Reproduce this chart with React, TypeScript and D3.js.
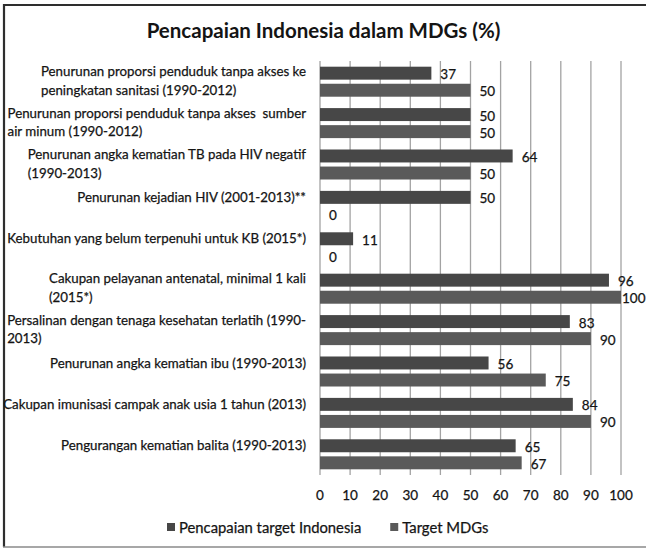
import React, { useEffect, useRef } from "react";
import * as d3 from "d3";

// category labels (line breaks as in the original)
const categories: string[] = [
  "Penurunan proporsi penduduk tanpa akses ke\npeningkatan sanitasi (1990-2012)",
  "Penurunan proporsi penduduk tanpa akses  sumber\nair minum (1990-2012)",
  "Penurunan angka kematian TB pada HIV negatif\n(1990-2013)",
  "Penurunan kejadian HIV (2001-2013)**",
  "Kebutuhan yang belum terpenuhi untuk KB (2015*)",
  "Cakupan pelayanan antenatal, minimal 1 kali\n(2015*)",
  "Persalinan dengan tenaga kesehatan terlatih (1990-\n2013)",
  "Penurunan angka kematian ibu (1990-2013)",
  "Cakupan imunisasi campak anak usia 1 tahun (2013)",
  "Pengurangan kematian balita (1990-2013)",
];
const pencapaian: number[] = [37, 50, 64, 50, 11, 96, 83, 56, 84, 65];
const targetMDGs: number[] = [50, 50, 50, 0, 0, 100, 90, 75, 90, 67];
const seriesNames: string[] = ["Pencapaian target Indonesia", "Target MDGs"];
const xTicks: number[] = [0, 10, 20, 30, 40, 50, 60, 70, 80, 90, 100];
const title = "Pencapaian Indonesia dalam MDGs (%)";

const FONT = "Lato, 'Open Sans', sans-serif";
const TEXT = "#141414";
const colors = ["#474747", "#5a5a5a"];

const App: React.FC = () => {
  const svgRef = useRef<SVGSVGElement | null>(null);

  useEffect(() => {
    if (!svgRef.current) return;
    const svg = d3.select(svgRef.current);
    svg.selectAll("*").remove();

    const W = 646;
    const H = 549;
    const plot = { top: 61, bottom: 475, left: 320, right: 621 };

    const x = d3.scaleLinear().domain([0, 100]).range([plot.left, plot.right]);
    const y = d3
      .scaleBand<number>()
      .domain(d3.range(categories.length))
      .range([plot.top, plot.bottom])
      .paddingInner(0.275)
      .paddingOuter(0.1375);
    const ySub = d3
      .scaleBand<number>()
      .domain([0, 1])
      .range([0, y.bandwidth()])
      .paddingInner(0.24);

    // small helper so all text gets the same look
    const styleText = (sel: any, size: number) =>
      sel
        .style("font-family", FONT)
        .style("font-size", `${size}px`)
        .attr("fill", TEXT)
        .attr("stroke", TEXT)
        .attr("stroke-width", 0.25);

    // frame
    svg.append("rect").attr("width", W).attr("height", H).attr("fill", "white");
    svg.append("line").attr("x1", 3).attr("x2", W).attr("y1", 5).attr("y2", 5)
      .attr("stroke", "#2e2e2e").attr("stroke-width", 2.2);
    svg.append("line").attr("x1", 4).attr("x2", 4).attr("y1", 4).attr("y2", 547)
      .attr("stroke", "#2e2e2e").attr("stroke-width", 2.2);
    svg.append("line").attr("x1", 3).attr("x2", W).attr("y1", 547).attr("y2", 547)
      .attr("stroke", "#8a8a8a").attr("stroke-width", 1.5);

    // title
    styleText(
      svg.append("text")
        .attr("x", 323.5).attr("y", 30)
        .attr("text-anchor", "middle").attr("dominant-baseline", "central")
        .style("font-weight", "bold")
        .text(title),
      20.5
    ).attr("stroke-width", 0);

    // gridlines
    svg.append("g").selectAll("line").data(xTicks).enter().append("line")
      .attr("x1", (d) => x(d)).attr("x2", (d) => x(d))
      .attr("y1", plot.top).attr("y2", plot.bottom)
      .attr("stroke", "#a3a3a3").attr("stroke-width", 1.3);

    // tick labels
    styleText(
      svg.append("g").selectAll("text").data(xTicks).enter().append("text")
        .attr("x", (d) => x(d)).attr("y", 495)
        .attr("text-anchor", "middle").attr("dominant-baseline", "central")
        .text((d) => d),
      13.5
    );

    // bars
    const series = [pencapaian, targetMDGs];
    series.forEach((vals, s) => {
      const g = svg.append("g");
      g.selectAll("rect").data(vals).enter().append("rect")
        .attr("x", x(0))
        .attr("y", (_, i) => (y(i) ?? 0) + (ySub(s) ?? 0))
        .attr("width", (d) => x(d) - x(0))
        .attr("height", ySub.bandwidth())
        .attr("fill", colors[s]);
      styleText(
        g.selectAll("text").data(vals).enter().append("text")
          .attr("x", (d) => Math.min(x(d) + 9, plot.right + 1))
          .attr("y", (_, i) => (y(i) ?? 0) + (ySub(s) ?? 0) + ySub.bandwidth() / 2 + 1)
          .attr("dominant-baseline", "central")
          .text((d) => d),
        13.5
      );
    });

    // category labels: block right aligned, lines left aligned
    const lineH = 18.5;
    const labelRight = 306;
    categories.forEach((cat, i) => {
      const lines = cat.split("\n");
      const center = (y(i) ?? 0) + y.bandwidth() / 2;
      const g = svg.append("g");
      const texts = lines.map((ln, k) => {
        const cy = lines.length === 1 ? center - 9 : center - 1 + (k - (lines.length - 1) / 2) * lineH;
        return styleText(
          g.append("text")
            .attr("y", cy)
            .attr("dominant-baseline", "central")
            .style("white-space", "pre")
            .text(ln),
          13.3
        );
      });
      const maxW = d3.max(texts, (t: any) => (t.node() as SVGTextElement).getComputedTextLength()) ?? 0;
      texts.forEach((t: any) => t.attr("x", labelRight - maxW));
    });

    // legend
    const legendY = 527;
    let lx = 167;
    seriesNames.forEach((name, s) => {
      svg.append("rect")
        .attr("x", lx).attr("y", legendY - 4).attr("width", 8).attr("height", 8)
        .attr("fill", colors[s]);
      const t = styleText(
        svg.append("text")
          .attr("x", lx + 12).attr("y", legendY)
          .attr("dominant-baseline", "central")
          .text(name),
        14.8
      );
      lx += 12 + (t.node() as SVGTextElement).getComputedTextLength() + 29;
    });
  }, []);

  return (
    <svg
      ref={svgRef}
      width={646}
      height={549}
      style={{ position: "absolute", left: 0, top: 0, display: "block" }}
    />
  );
};

export default App;
